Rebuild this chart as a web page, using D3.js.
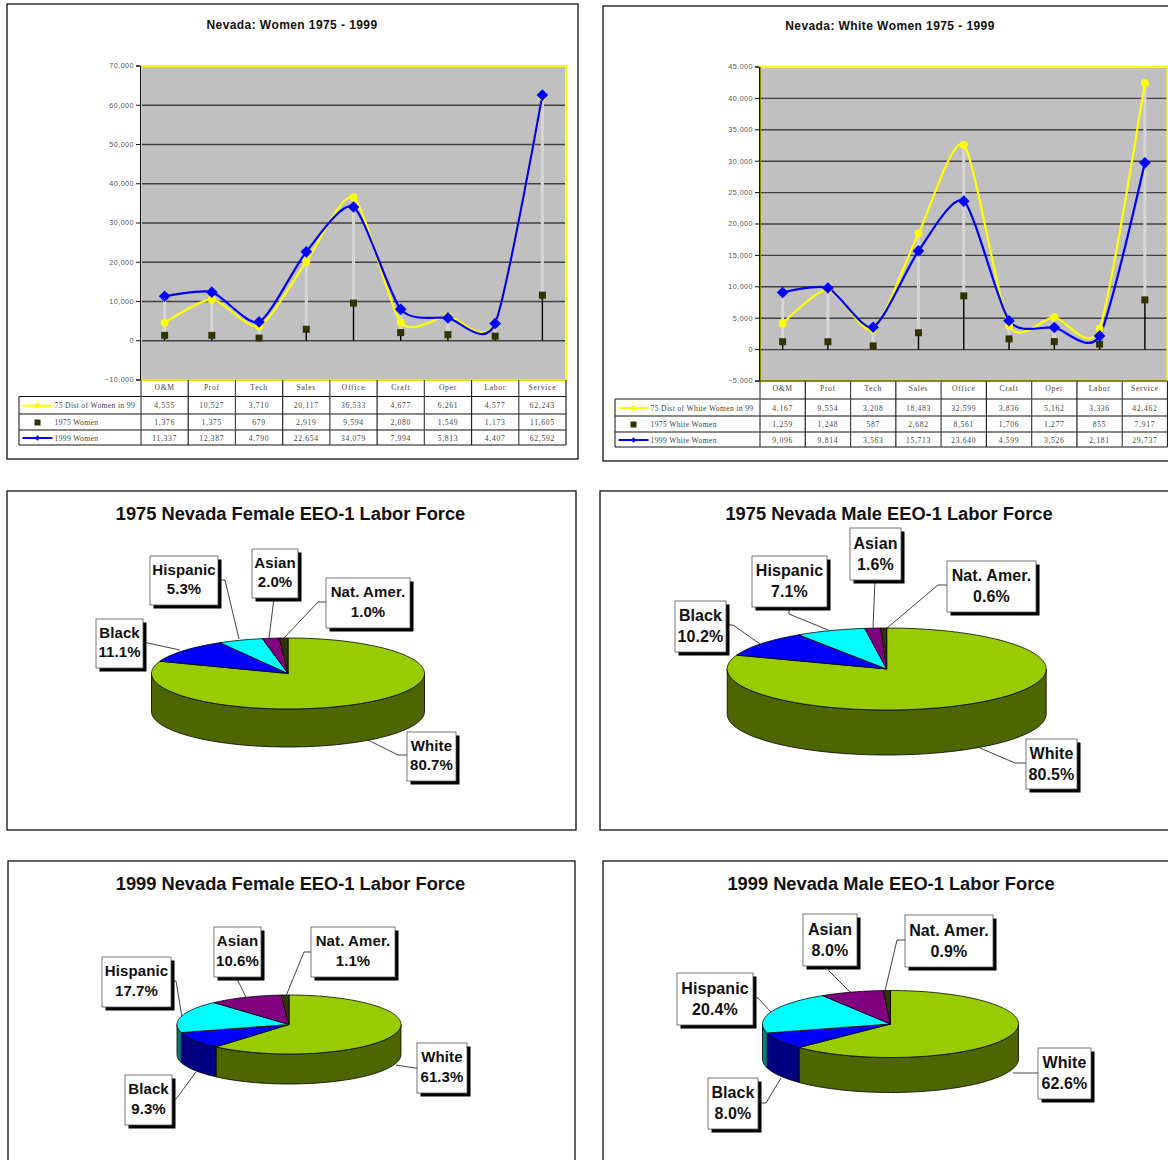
<!DOCTYPE html>
<html><head><meta charset="utf-8">
<script src="https://cdn.jsdelivr.net/npm/d3@7"></script>
<style>html,body{margin:0;padding:0;background:#fff;overflow:hidden}svg{display:block}</style>
</head><body><svg id="c" width="1168" height="1160"></svg>
<script>
// ---------- data ----------
const categories = ["O&M","Prof","Tech","Sales","Office","Craft","Oper","Labor","Service"];
const womenDist99 = [4555,10527,3710,20117,36533,4677,6261,4577,62243];
const women1975   = [1376,1375,679,2919,9594,2080,1549,1173,11605];
const women1999   = [11337,12387,4790,22654,34079,7994,5813,4407,62592];
const whiteDist99 = [4167,9554,3208,18483,32599,3836,5162,3336,42462];
const white1975   = [1259,1248,587,2682,8561,1706,1277,855,7917];
const white1999   = [9096,9814,3563,15713,23640,4599,3526,2181,29737];
const womenTicks = [-10000,0,10000,20000,30000,40000,50000,60000,70000];
const whiteTicks = [-5000,0,5000,10000,15000,20000,25000,30000,35000,40000,45000];
const groups = ["White","Black","Hispanic","Asian","Nat. Amer."];
const female1975 = [80.7,11.1,5.3,2.0,1.0];
const male1975   = [80.5,10.2,7.1,1.6,0.6];
const female1999 = [61.3,9.3,17.7,10.6,1.1];
const male1999   = [62.6,8.0,20.4,8.0,0.9];

// ---------- layout ----------
const svg = d3.select("#c");
const fmt = d3.format(",");
const SANS = "'Liberation Sans',Arial,sans-serif", SERIF = "'Liberation Serif',serif";
const topColors = ["#99cc00","#0000ff","#00ffff","#800080","#333300"];
const sideColors = ["#4d6600","#000080","#008080","#400040","#1a1a00"];

function frame(x0,y0,x1,y1){
  svg.append("rect").attr("x",x0).attr("y",y0).attr("width",x1-x0).attr("height",y1-y0)
    .attr("fill","#fff").attr("stroke","#111").attr("stroke-width",1.3);
}

function lineChart(o){
  frame(...o.frame);
  const g = svg.append("g");
  g.append("text").attr("x",o.titleX).attr("y",o.titleY).attr("text-anchor","middle")
    .attr("font-family",SANS).attr("font-weight","bold").attr("font-size",12).attr("letter-spacing",0.42).attr("fill","#111").text(o.title);
  const x = d3.scaleBand().domain(categories).range([o.left,o.right]);
  const y = d3.scaleLinear().domain(o.domain).range([o.bottom,o.top]);
  const cx = c => x(c)+x.bandwidth()/2;
  g.append("rect").attr("x",o.left).attr("y",o.top).attr("width",o.right-o.left).attr("height",o.bottom-o.top).attr("fill","#c0c0c0");
  g.selectAll("line.grid").data(o.ticks.slice(1,-1)).join("line").attr("class","grid")
    .attr("x1",o.left).attr("x2",o.right).attr("y1",d=>y(d)).attr("y2",d=>y(d))
    .attr("stroke","#404040").attr("stroke-width",1.4);
  // plot border
  g.append("path").attr("d",`M${o.left},${o.top}H${o.right}V${o.bottom}`).attr("fill","none").attr("stroke","#ffff00").attr("stroke-width",2);
  g.append("path").attr("d",`M${o.left},${o.top}V${o.bottom}H${o.right}`).attr("fill","none").attr("stroke",o.axisColor).attr("stroke-width",2);
  // axis
  const ax = g.append("g").attr("transform",`translate(${o.left-1},-0.5)`)
    .call(d3.axisLeft(y).tickValues(o.ticks).tickFormat(fmt).tickSize(4).tickPadding(2));
  ax.select(".domain").attr("stroke","#111");
  ax.selectAll("line").attr("stroke","#111");
  ax.selectAll("text").attr("font-family",SANS).attr("font-size",7.2).attr("letter-spacing",0.45).attr("fill","#555");
  // stems
  categories.forEach((c,i)=>{
    const hi = Math.max(o.dist[i],o.y75[i],o.y99[i]);
    g.append("line").attr("x1",cx(c)).attr("x2",cx(c)).attr("y1",y(o.y75[i])).attr("y2",y(hi))
      .attr("stroke","#d6d6d6").attr("stroke-width",3);
    g.append("line").attr("x1",cx(c)).attr("x2",cx(c)).attr("y1",y(0)).attr("y2",y(o.y75[i]))
      .attr("stroke","#000").attr("stroke-width",1.4);
  });
  const line = d3.line().x((d,i)=>cx(categories[i])).y(d=>y(d)).curve(d3.curveCardinal.tension(0.3));
  g.append("path").attr("d",line(o.dist)).attr("fill","none").attr("stroke","#ffff00").attr("stroke-width",2.2);
  g.append("path").attr("d",line(o.y99)).attr("fill","none").attr("stroke","#0000ff").attr("stroke-width",2.2);
  g.selectAll("rect.m75").data(o.y75).join("rect").attr("class","m75")
    .attr("x",(d,i)=>cx(categories[i])-3.5).attr("y",d=>y(d)-3.5).attr("width",7).attr("height",7).attr("fill","#333300");
  g.selectAll("circle.md").data(o.dist).join("circle").attr("class","md")
    .attr("cx",(d,i)=>cx(categories[i])).attr("cy",d=>y(d)).attr("r",4).attr("fill","#ffff00");
  const diamond = d3.symbol().type(d3.symbolSquare).size(68);
  g.selectAll("path.m99").data(o.y99).join("path").attr("class","m99").attr("d",diamond())
    .attr("transform",(d,i)=>`translate(${cx(categories[i])},${y(d)}) rotate(45)`).attr("fill","#0000ff");

  // data table
  const rows = [o.dist,o.y75,o.y99];
  const ry = o.rowY;
  const tbl = svg.append("g");
  const tl = (x1,y1,x2,y2,c,w)=>tbl.append("line").attr("x1",x1).attr("y1",y1).attr("x2",x2).attr("y2",y2).attr("stroke",c).attr("stroke-width",w);
  ry.slice(1).forEach(v=>tl(o.legendX,v,o.right,v,"#111",1.1));
  tl(o.legendX,ry[1],o.legendX,ry[4],"#222",1.1);
  d3.range(0,10).forEach(k=>{const px=o.left+k*x.bandwidth();tl(px,ry[0],px,ry[4],k%2?"#222":"#444",1.2);});
  const txt = (px,py,s,a,sp)=>tbl.append("text").attr("x",px).attr("y",py).attr("text-anchor",a||"middle")
    .attr("font-family",SERIF).attr("font-size",7.6).attr("letter-spacing",sp===undefined?0.7:sp).attr("fill","#444").text(s);
  categories.forEach((c,i)=>{
    txt(cx(c),ry[0]+10,c);
    rows.forEach((r,k)=>txt(cx(c),ry[k+1]+ (ry[k+2]-ry[k+1])/2+3,fmt(r[i])));
  });
  const lx0=o.legendX+3.5,lx1=lx0+30;
  o.legend.forEach((s,k)=>{
    const my=(ry[k+1]+ry[k+2])/2+0.5;
    txt(lx1+2,my+2.5,s,"start",0.35);
    if(k===1){tbl.append("rect").attr("x",(lx0+lx1)/2-3).attr("y",my-3).attr("width",6).attr("height",6).attr("fill","#333300");}
    else{
      const col=k===0?"#ffff00":"#0000ff";
      tl(lx0,my,lx1,my,col,2);
      if(k===0) tbl.append("circle").attr("cx",(lx0+lx1)/2).attr("cy",my).attr("r",2.8).attr("fill",col);
      else tbl.append("path").attr("d",d3.symbol().type(d3.symbolSquare).size(14)()).attr("transform",`translate(${(lx0+lx1)/2},${my}) rotate(45)`).attr("fill",col);
    }
  });
}

function pieChart(o){
  frame(...o.frame);
  svg.append("text").attr("x",o.titleX).attr("y",o.titleY).attr("text-anchor","middle")
    .attr("font-family",SANS).attr("font-weight","bold").attr("font-size",18.3).attr("fill","#111").text(o.title);
  const g = svg.append("g");
  const arcs = d3.pie().sort(null)(o.values);
  const px = d3.scaleLinear().domain([-1,1]).range([o.cx-o.rx,o.cx+o.rx]);
  const py = d3.scaleLinear().domain([-1,1]).range([o.cy-o.ry,o.cy+o.ry]);
  const pt = (t,dy)=>[px(Math.sin(t)),py(-Math.cos(t))+(dy||0)];
  const samples = (a,b)=>{const n=Math.max(2,Math.ceil((b-a)/0.02));return d3.range(n+1).map(k=>a+(b-a)*k/n);};
  const path = d3.line();
  // side walls
  arcs.forEach((a,i)=>{
    const s=Math.max(a.startAngle,Math.PI/2),e=Math.min(a.endAngle,Math.PI*1.5);
    if(e<=s) return;
    const top=samples(s,e).map(t=>pt(t,0)),bot=samples(s,e).reverse().map(t=>pt(t,o.depth));
    g.append("path").attr("d",path(top.concat(bot))+"Z").attr("fill",sideColors[i]).attr("stroke","#000").attr("stroke-width",0.8);
  });
  // top
  arcs.forEach((a,i)=>{
    const pts=[[o.cx,o.cy]].concat(samples(a.startAngle,a.endAngle).map(t=>pt(t,0)));
    g.append("path").attr("d",path(pts)+"Z").attr("fill",topColors[i]).attr("stroke","#000").attr("stroke-width",0.8).attr("stroke-linejoin","round");
  });
  // callouts
  groups.forEach((name,i)=>{
    const c=o.labels[i], [x0,y0,x1,y1]=c.box;
    g.append("path").attr("d",path(c.leader)).attr("fill","none").attr("stroke","#111").attr("stroke-width",0.8);
    g.append("rect").attr("x",x0+3.5).attr("y",y0+3.5).attr("width",x1-x0).attr("height",y1-y0).attr("fill","#000");
    g.append("rect").attr("x",x0).attr("y",y0).attr("width",x1-x0).attr("height",y1-y0).attr("fill","#fff").attr("stroke","#555").attr("stroke-width",0.8);
    const mx=(x0+x1)/2,my=(y0+y1)/2-o.lift;
    [name,o.values[i].toFixed(1)+"%"].forEach((s,k)=>{
      g.append("text").attr("x",mx).attr("y",my+(k?o.fs*1.1:-o.fs*0.2)).attr("text-anchor","middle")
        .attr("font-family",SANS).attr("font-weight","bold").attr("font-size",o.fs).attr("letter-spacing",0.1).attr("fill","#111").text(s);
    });
  });
}

lineChart({frame:[7,4,578,459],title:"Nevada: Women 1975 - 1999",titleX:292,titleY:29,left:141,right:566,top:66,bottom:380,
  domain:[-10000,70000],ticks:womenTicks,dist:womenDist99,y75:women1975,y99:women1999,axisColor:"#e8e800",
  rowY:[380,396.5,414,430,445],legendX:19,legend:["75 Dist of Women in 99","1975 Women","1999 Women"]});
lineChart({frame:[603,6,1175,461],title:"Nevada: White Women 1975 - 1999",titleX:890,titleY:30,left:760,right:1167.5,top:67,bottom:381,
  domain:[-5000,45000],ticks:whiteTicks,dist:whiteDist99,y75:white1975,y99:white1999,axisColor:"#8a8a00",
  rowY:[381,399,416,432,447],legendX:615,legend:["75 Dist of White Women in 99","1975 White Women","1999 White Women"]});

pieChart({frame:[7,491,576,830],title:"1975 Nevada Female EEO-1 Labor Force",titleX:290.5,titleY:520,values:female1975,
  cx:288,cy:673.5,rx:136.5,ry:35.5,depth:38,fs:15,lift:3,labels:[
  {box:[407,732,456,781],leader:[[368,740],[398,755],[407,755]]},
  {box:[96,619,143,668],leader:[[143,642],[180,650]]},
  {box:[150,556,218,605],leader:[[218,580],[225,580],[239,639]]},
  {box:[252,549,298,598],leader:[[274,598],[269,638]]},
  {box:[326,578,410,628],leader:[[326,602],[318,602],[284,638]]}]});
pieChart({frame:[600,491,1175,830],title:"1975 Nevada Male EEO-1 Labor Force",titleX:889,titleY:520,values:male1975,
  cx:886.7,cy:669,rx:159.5,ry:41,depth:45,fs:16,lift:2,labels:[
  {box:[1026,739,1077,789],leader:[[980,748],[1015,763],[1026,763]]},
  {box:[675,601,726,652],leader:[[726,625],[733,625],[760,644]]},
  {box:[752,556,827,607],leader:[[789,607],[789,614],[828,630]]},
  {box:[850,528,901,580],leader:[[875,580],[873,628]]},
  {box:[947,561,1036,612],leader:[[947,585],[938,585],[887,628]]}]});
pieChart({frame:[8,861,575,1175],title:"1999 Nevada Female EEO-1 Labor Force",titleX:290.5,titleY:890,values:female1999,
  cx:289,cy:1024.5,rx:112,ry:29.5,depth:30,fs:15,lift:3,labels:[
  {box:[417,1043,467,1093],leader:[[396,1065],[415,1068],[417,1068]]},
  {box:[125,1075,172,1125],leader:[[172,1099],[176,1099],[196,1072]]},
  {box:[102,957,171,1007],leader:[[171,981],[176,981],[182,1017]]},
  {box:[214,927,261,977],leader:[[236,977],[246,997]]},
  {box:[311,927,395,977],leader:[[311,952],[304,952],[286,996]]}]});
pieChart({frame:[603,861,1175,1175],title:"1999 Nevada Male EEO-1 Labor Force",titleX:891,titleY:890,values:male1999,
  cx:890.5,cy:1024,rx:128,ry:33.5,depth:35,fs:16,lift:2,labels:[
  {box:[1038,1048,1091,1099],leader:[[1013,1073],[1038,1073]]},
  {box:[708,1078,758,1129],leader:[[758,1103],[766,1103],[781,1078]]},
  {box:[677,973,753,1025],leader:[[753,998],[758,998],[771,1012]]},
  {box:[803,914,857,966],leader:[[828,966],[829,971],[850,992]]},
  {box:[905,915,993,967],leader:[[905,940],[897,940],[885,991]]}]});
</script></body></html>
